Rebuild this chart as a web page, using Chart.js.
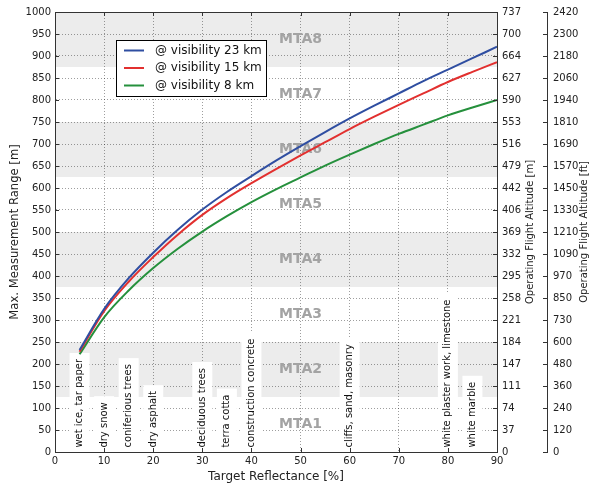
<!DOCTYPE html>
<html>
<head>
<meta charset="utf-8">
<script src="https://cdn.jsdelivr.net/npm/chart.js@4.4.0/dist/chart.umd.min.js"></script>
<style>
  html, body { margin: 0; padding: 0; background: #fff; }
</style>
</head>
<body>
<canvas id="rangeChart" width="589" height="488"></canvas>
<script>
// target reflectance [%] and max. measurement range [m] per visibility
const reflectance = [5, 10, 15, 20, 25, 30, 35, 40, 45, 50, 55, 60, 65, 70, 75, 80, 85, 90];
const range23km = [232, 325, 395, 453, 505, 551, 591, 627, 662, 695, 727, 758, 787, 815, 843, 869, 895, 921];
const range15km = [228, 320, 387, 443, 494, 539, 577, 611, 643, 674, 704, 734, 762, 789, 815, 841, 864, 886];
const range8km  = [222, 306, 367, 418, 462, 501, 536, 568, 597, 624, 651, 676, 700, 723, 744, 765, 783, 800];
const seriesNames = ['@ visibility 23 km', '@ visibility 15 km', '@ visibility 8 km'];
const seriesColors = ['#2f4ea1', '#e2302f', '#25903c'];

// second and third axis labels (flight altitude)
const altitudeM = ['0', '37', '74', '111', '147', '184', '221', '258', '295', '332', '369',
  '406', '442', '479', '516', '553', '590', '627', '664', '700', '737'];
const altitudeFt = ['0', '120', '240', '360', '480', '600', '730', '850', '970', '1090', '1210',
  '1330', '1450', '1570', '1690', '1810', '1940', '2060', '2180', '2300', '2420'];

// MTA zones
const mtaBounds = [0, 125, 250, 375, 500, 625, 750, 875, 1000];
const mtaNames = ['MTA1', 'MTA2', 'MTA3', 'MTA4', 'MTA5', 'MTA6', 'MTA7', 'MTA8'];

// typical reflectance of materials
const materialX = [5, 10, 15, 20, 30, 35, 40, 60, 80, 85];
const materialNames = ['wet ice, tar paper', 'dry snow', 'coniferious trees', 'dry asphalt',
  'deciduous trees', 'terra cotta', 'construction concrete', 'cliffs, sand, masonry',
  'white plaster work, limestone', 'white marble'];

const FONT = '"DejaVu Sans", sans-serif';
Chart.defaults.font.family = FONT;
Chart.defaults.font.size = 10;
Chart.defaults.color = '#222';

const gridColor = 'rgba(0,0,0,0.38)';
const spineColor = '#333';

const decor = {
  id: 'decor',
  beforeDraw(chart) {
    const { ctx, scales: { x, y } } = chart;
    const x0 = x.getPixelForValue(0), x1 = x.getPixelForValue(90);
    ctx.save();
    ctx.fillStyle = '#ececec';
    for (let i = 1; i < mtaNames.length; i += 2) {
      const top = y.getPixelForValue(mtaBounds[i + 1]);
      const bot = y.getPixelForValue(mtaBounds[i]);
      ctx.fillRect(x0, top, x1 - x0, bot - top);
    }
    ctx.restore();
  },
  beforeDatasetsDraw(chart) {
    const { ctx, chartArea: a, scales: { x, y } } = chart;
    ctx.save();
    ctx.beginPath();
    ctx.rect(a.left, a.top, a.right - a.left, a.bottom - a.top);
    ctx.clip();

    ctx.font = 'bold 14px ' + FONT;
    ctx.fillStyle = '#a3a3a3';
    ctx.textAlign = 'center';
    ctx.textBaseline = 'middle';
    mtaNames.forEach((name, i) => {
      ctx.fillText(name, x.getPixelForValue(50), y.getPixelForValue((mtaBounds[i] + mtaBounds[i + 1]) / 2));
    });

    ctx.font = '10px ' + FONT;
    materialNames.forEach((name, i) => {
      const px = x.getPixelForValue(materialX[i]);
      const py = y.getPixelForValue(10);
      const w = ctx.measureText(name).width;
      ctx.fillStyle = '#fff';
      ctx.fillRect(px - 10, py - w - 6, 20, a.bottom - (py - w - 6));
      ctx.save();
      ctx.translate(px, py);
      ctx.rotate(-Math.PI / 2);
      ctx.fillStyle = '#111';
      ctx.textAlign = 'left';
      ctx.textBaseline = 'middle';
      ctx.fillText(name, 0, 0);
      ctx.restore();
    });
    ctx.restore();
  },
  afterDraw(chart) {
    const { ctx, chartArea: a, scales: { x, y, yM, yFt } } = chart;
    ctx.save();
    ctx.strokeStyle = spineColor;
    ctx.lineWidth = 1;
    ctx.beginPath();
    ctx.moveTo(a.left, a.top + 0.5);
    ctx.lineTo(a.right, a.top + 0.5);
    // inward tick marks
    for (let v = 0; v <= 90; v += 10) {
      const px = Math.round(x.getPixelForValue(v)) + 0.5;
      ctx.moveTo(px, a.bottom); ctx.lineTo(px, a.bottom - 4);
      ctx.moveTo(px, a.top); ctx.lineTo(px, a.top + 4);
    }
    for (let v = 0; v <= 1000; v += 50) {
      const py = Math.round(y.getPixelForValue(v)) + 0.5;
      ctx.moveTo(a.left, py); ctx.lineTo(a.left + 4, py);
      ctx.moveTo(a.right, py); ctx.lineTo(a.right - 4, py);
      ctx.moveTo(yFt.left, py); ctx.lineTo(yFt.left - 4, py);
    }
    ctx.stroke();

    // right axis titles, reading bottom to top
    const midY = (a.top + a.bottom) / 2;
    ctx.fillStyle = '#222';
    ctx.font = '10px ' + FONT;
    ctx.textAlign = 'center';
    ctx.textBaseline = 'middle';
    [[yM.right - 17, 'Operating Flight Altitude [m]'], [yFt.right - 4.5, 'Operating Flight Altitude [ft]']].forEach(([tx, t]) => {
      ctx.save();
      ctx.translate(tx, midY);
      ctx.rotate(-Math.PI / 2);
      ctx.fillText(t, 0, 0);
      ctx.restore();
    });

    // legend
    const lx = a.left + 61, ly = a.top + 28, lw = 150, lh = 56;
    ctx.fillStyle = '#fff';
    ctx.fillRect(lx, ly, lw, lh);
    ctx.strokeStyle = '#000';
    ctx.strokeRect(lx + 0.5, ly + 0.5, lw, lh);
    ctx.font = '12px ' + FONT;
    ctx.textAlign = 'left';
    chart.data.datasets.forEach((ds, i) => {
      const ry = ly + 10.5 + i * 17.5;
      ctx.strokeStyle = ds.borderColor;
      ctx.lineWidth = 2;
      ctx.beginPath();
      ctx.moveTo(lx + 8, ry);
      ctx.lineTo(lx + 28, ry);
      ctx.stroke();
      ctx.fillStyle = '#111';
      ctx.fillText(ds.label, lx + 39, ry);
    });
    ctx.restore();
  }
};

const series = [range23km, range15km, range8km];

new Chart(document.getElementById('rangeChart'), {
  type: 'line',
  data: {
    datasets: series.map((vals, i) => ({
      label: seriesNames[i],
      data: reflectance.map((r, k) => ({ x: r, y: vals[k] })),
      borderColor: seriesColors[i],
      borderWidth: 2,
      pointRadius: 0,
      fill: false,
      cubicInterpolationMode: 'monotone'
    }))
  },
  options: {
    responsive: false,
    animation: false,
    layout: { padding: { top: 10, left: 0, right: 0, bottom: 0 } },
    plugins: { legend: { display: false }, tooltip: { enabled: false } },
    scales: {
      x: {
        type: 'linear', min: 0, max: 90,
        ticks: { stepSize: 10, padding: 3 },
        grid: { color: gridColor, drawTicks: false },
        border: { color: spineColor, dash: [1, 2] },
        title: { display: true, text: 'Target Reflectance [%]', font: { size: 12 }, padding: { top: 0, bottom: 4 } },
        afterFit: s => { s.height = 36; }
      },
      y: {
        type: 'linear', position: 'left', min: 0, max: 1000,
        ticks: { stepSize: 50, padding: 4, autoSkip: false, callback: v => String(v) },
        grid: { color: gridColor, drawTicks: false },
        border: { color: spineColor, dash: [1, 2] },
        title: { display: true, text: 'Max. Measurement Range [m]', font: { size: 11.6 }, padding: { top: 8, bottom: 0 } },
        afterFit: s => { s.width = 55; }
      },
      yM: {
        type: 'linear', position: 'right', weight: 0, min: 0, max: 1000,
        ticks: { stepSize: 50, padding: 5, autoSkip: false, callback: v => altitudeM[Math.round(v / 50)] },
        grid: { display: false, drawOnChartArea: false, drawTicks: false },
        border: { color: spineColor },
        afterFit: s => { s.width = 50; }
      },
      yFt: {
        type: 'linear', position: 'right', weight: 1, min: 0, max: 1000,
        ticks: { stepSize: 50, padding: 6, autoSkip: false, callback: v => altitudeFt[Math.round(v / 50)] },
        grid: { display: false, drawOnChartArea: false, drawTicks: false },
        border: { color: spineColor },
        afterFit: s => { s.width = 42; }
      }
    }
  },
  plugins: [decor]
});
</script>
</body>
</html>
